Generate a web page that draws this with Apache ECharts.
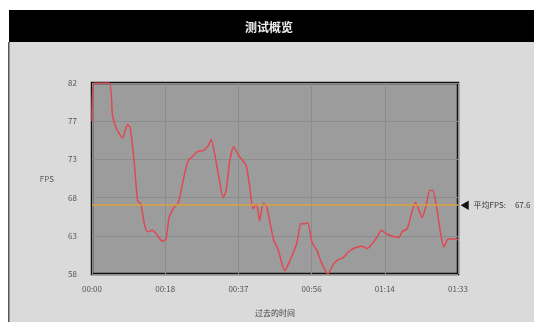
<!DOCTYPE html>
<html>
<head>
<meta charset="utf-8">
<script src="https://cdn.jsdelivr.net/npm/echarts@6/dist/echarts.min.js"></script>
<style>
  html, body { margin: 0; padding: 0; background: #fff; }
  #chart { width: 534px; height: 322px; }
</style>
</head>
<body>
<div id="chart"></div>
<script>
// 时间 (秒) 与 FPS
var times = [0, 0.5, 4.4, 5.2, 6.1, 7.8, 9.0, 9.7, 10.7, 11.6, 12.4, 13.3, 14.1, 15.4, 16.7, 17.9, 18.8,
  19.6, 20.9, 21.9, 23.5, 24.4, 25.6, 26.9, 28.2, 29.5, 30.3, 31.2, 32.4, 33.3, 34.1, 35.0, 36.0,
  37.1, 38.4, 39.2, 40.1, 40.9, 41.8, 42.6, 43.5, 44.3, 45.2, 46.2, 47.2, 49.0, 50.3, 52.0, 53.1,
  54.2, 54.8, 55.9, 57.1, 58.4, 59.9, 61.4, 62.6, 63.9, 65.2, 66.9, 68.6, 69.9, 71.2, 72.5, 73.5,
  75.0, 76.7, 78.0, 78.8, 80.1, 81.4, 82.2, 83.1, 83.9, 84.8, 85.8, 86.6, 87.7, 88.6, 89.4, 90.5,
  92.0, 93.0];
var fps = [77.2, 82, 82, 78, 76.4, 75.1, 76.8, 76.4, 72.2, 67.2, 66.8, 64.3, 63.3, 63.5, 62.8, 62.1, 62.4,
  65.1, 66.4, 66.9, 70.5, 72.2, 72.8, 73.4, 73.5, 74.1, 74.9, 73.0, 69.7, 67.6, 68.5, 72.2, 74.0,
  73.0, 72.2, 71.6, 68.9, 66.2, 66.8, 64.7, 66.9, 66.6, 64.5, 62.2, 61.2, 58.4, 59.7, 61.8, 64.3,
  64.3, 64.5, 62.0, 61.0, 59.3, 58.0, 59.3, 59.8, 60.1, 60.8, 61.3, 61.5, 61.2, 61.8, 62.7, 63.5,
  63.0, 62.7, 62.6, 63.3, 63.7, 66.0, 67.0, 66.0, 65.1, 66.4, 68.5, 68.5, 66.0, 63.0, 61.4, 62.4,
  62.4, 62.3];
var xLabels = ['00:00', '00:18', '00:37', '00:56', '01:14', '01:33'];
var yLabels = ['58', '63', '68', '73', '77', '82'];
var avgFps = 67.6;     // 图中标注的平均值
var avgLevel = 66.7;   // 平均线在图上的位置

var chart = echarts.init(document.getElementById('chart'));
var font = '"Noto Sans CJK SC", "Noto Sans", sans-serif';

chart.setOption({
  animation: false,
  textStyle: { fontFamily: font },
  graphic: [
    { type: 'rect', left: 9, top: 10, shape: { width: 525, height: 312 }, style: { fill: '#dadada' }, z: -10 },
    { type: 'rect', left: 9, top: 10, shape: { width: 525, height: 32 }, style: { fill: '#000' }, z: -9 },
    { type: 'rect', left: 8, top: 42, shape: { width: 1.5, height: 280 }, style: { fill: '#555' }, z: -9 }
  ],
  title: {
    text: '测试概览',
    left: 240, top: 16,
    textStyle: { color: '#eee', fontSize: 12, fontWeight: 'bold', fontFamily: font }
  },
  grid: {
    left: 92, right: 76, top: 83, bottom: 46,
    show: true, backgroundColor: '#9c9c9c', borderColor: '#111', borderWidth: 2.5
  },
  xAxis: {
    type: 'value', min: 0, max: 93, interval: 18.6,
    name: '过去的时间', nameLocation: 'middle', nameGap: 35,
    nameTextStyle: { color: '#444', fontSize: 8, fontFamily: font },
    axisLine: { show: false }, axisTick: { show: false },
    axisLabel: {
      color: '#555', fontSize: 8, margin: 11, fontFamily: font,
      formatter: function (v) { return xLabels[Math.round(v / 18.6)]; }
    },
    splitLine: { show: true, lineStyle: { color: '#8c8c8c', width: 1 } }
  },
  yAxis: {
    type: 'value', min: 58, max: 82, interval: 4.8,
    name: 'FPS', nameLocation: 'middle', nameGap: 38, nameRotate: 0,
    nameTextStyle: { color: '#555', fontSize: 8, fontFamily: font },
    axisLine: { show: false }, axisTick: { show: false },
    axisLabel: {
      color: '#555', fontSize: 8, margin: 15, fontFamily: font,
      formatter: function (v) { return yLabels[Math.round((v - 58) / 4.8)]; }
    },
    splitLine: { show: true, lineStyle: { color: '#8c8c8c', width: 1 } }
  },
  series: [{
    type: 'line',
    data: times.map(function (t, i) { return [t, fps[i]]; }),
    showSymbol: false,
    smooth: 0.2,
    lineStyle: { color: '#e04852', width: 1.5 },
    markLine: {
      silent: true,
      symbol: ['none', 'none'],
      lineStyle: { color: '#d9a23c', width: 1.5, type: 'solid' },
      label: {
        show: true, position: 'end', distance: 2,
        formatter: '{a|◀}  平均FPS:     ' + avgFps,
        color: '#333', fontSize: 8, fontFamily: font,
        rich: { a: { color: '#111', fontSize: 10 } }
      },
      data: [{ yAxis: avgLevel }]
    }
  }]
});
</script>
</body>
</html>
